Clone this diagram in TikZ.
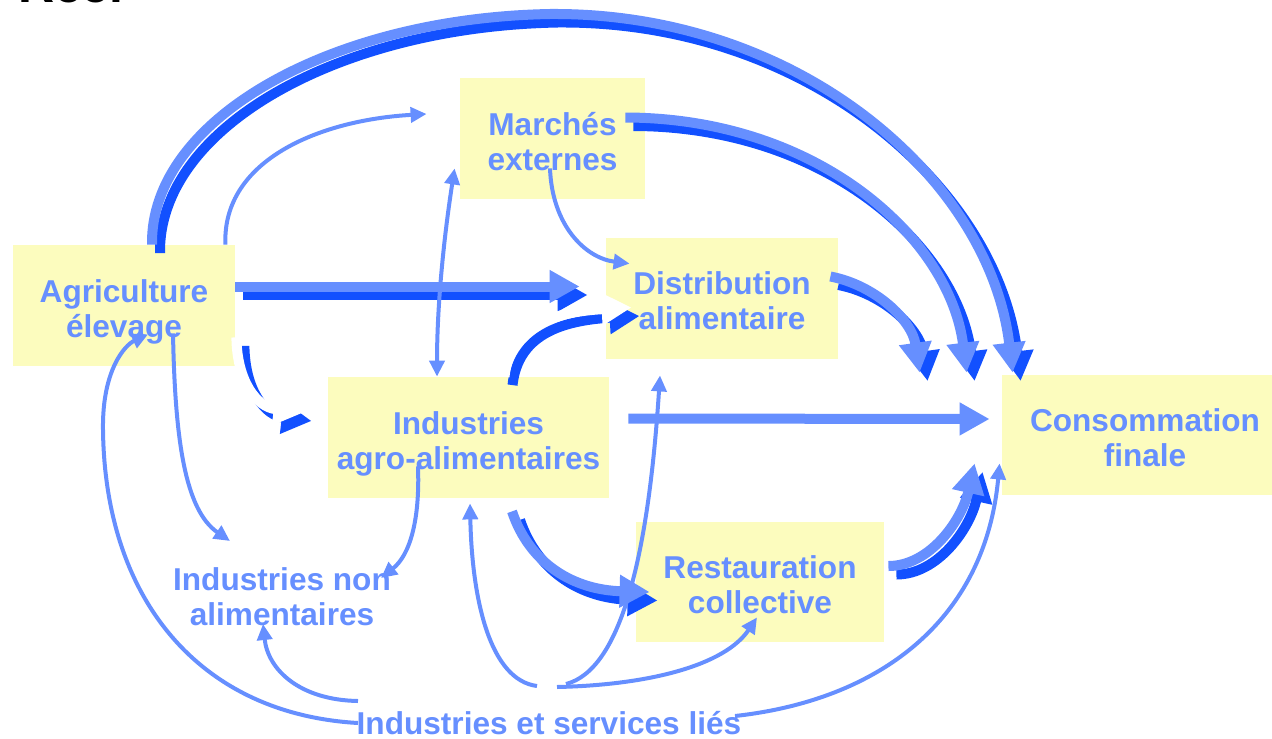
\documentclass[tikz,border=0pt]{standalone}
\usepackage{fontspec}
\setmainfont{Liberation Sans}
\usetikzlibrary{arrows.meta,calc}
\definecolor{bleu}{RGB}{102,143,255}
\definecolor{bleufonce}{RGB}{18,80,255}
\definecolor{jaune}{RGB}{252,252,190}
% thick flow: dark copy shifted underneath, then the light one on top
\newcommand{\flux}[2][bleu]{%
  \draw[epais,bleufonce,transform canvas={shift={(4pt,-4.25pt)}}] #2;
  \draw[epais,#1] #2;}
% two centred lines, baseline on the first one
\newcommand{\deux}[2]{\begin{tabular}[t]{@{}c@{}}#1\\#2\end{tabular}}

\begin{document}
\begin{tikzpicture}[x=0.5pt,y=-0.5pt,
  boite/.style={rectangle,fill=jaune,inner sep=0pt},
  txt/.style={text=bleu,inner sep=0pt,anchor=base,
    font=\bfseries\fontsize{15.8}{17.5}\selectfont},
  epais/.style={line width=5pt,-{Triangle[length=15pt,width=15.5pt]}},
  fin/.style={bleu,line width=2pt,-{Triangle[length=8pt,width=7.5pt]}}]
\useasboundingbox (0,0) rectangle (1272,738);

\node[anchor=base west,font=\bfseries\fontsize{25}{30}\selectfont] (titre) at (11,3) {Réel};

% sectors
\node[boite,minimum width=111pt,minimum height=60.5pt] (agri)    at (124,305.5) {};
\node[boite,minimum width=92.5pt,minimum height=60.5pt] (marche) at (552.5,138.5) {};
\node[boite,minimum width=116pt,minimum height=60.5pt] (distrib) at (722,298.5) {};
\node[boite,minimum width=140.5pt,minimum height=60.5pt] (iaa)   at (468.5,437.5) {};
\node[boite,minimum width=144pt,minimum height=60pt] (conso)     at (1146,435) {};
\node[boite,minimum width=124pt,minimum height=60pt] (resto)     at (760,582) {};

\node[txt] (agritxt)    at (124,302)   {\deux{Agriculture}{élevage}};
\node[txt] (marchetxt)  at (552.5,135) {\deux{Marchés}{externes}};
\node[txt] (distribtxt) at (722,294)   {\deux{Distribution}{alimentaire}};
\node[txt] (iaatxt)     at (468.5,434) {\deux{Industries}{agro-alimentaires}};
\node[txt] (consotxt)   at (1145,431)  {\deux{Consommation}{finale}};
\node[txt] (restotxt)   at (760,578)   {\deux{Restauration}{collective}};
\node[txt] (nonalim)    at (282,590)   {\deux{Industries non}{alimentaires}};
\node[txt] (lies)       at (549,734)   {Industries et services liés};

% main flows
\flux{($(agri.north)+(28,0)$) .. controls (150,120) and (330,18) .. (550,14)
      .. controls (800,12) and (990,180) .. ($(conso.north west)+(11,-2)$)}
\flux{($(marche.east)+(-20,-21)$) .. controls (820,118) and (950,240) .. ($(conso.north west)+(-35,-2)$)}
\flux{($(distrib.east)+(-8,-22)$) .. controls (875,285) and (912,320) .. ($(conso.north west)+(-82,-2)$)}
\flux{($(agri.east)+(0,-19)$) -- ($(distrib.west)+(-26,-12)$)}
\flux[white]{($(iaa.north)+(36,0)$) .. controls (510,327) and (552,312) .. ($(distrib.west)+(26,9)$)}
\flux[white]{($(agri.south east)+(1,-29)$) .. controls (237,382) and (257,407) .. ($(iaa.west)+(-24,-25)$)}
\draw[epais,bleu] ($(iaa.east)+(19,-19)$) -- ($(conso.west)+(-12,-16)$);
\flux{($(iaa.south)+(43.5,13)$) .. controls (530,565) and (575,590) .. ($(resto.west)+(14,10)$)}
\flux{($(resto.east)+(4,-16)$) .. controls (930,566) and (962,520) .. ($(conso.south west)+(-27,-32)$)}

% secondary flows
\draw[fin] ($(agri.north east)+(-10,0)$) .. controls (222,160) and (320,120) .. ($(marche.west)+(-33,-24.5)$);
\draw[fin,{Triangle[length=8pt,width=7.5pt]}-{Triangle[length=8pt,width=7.5pt]}]
  ($(marche.south west)+(-5,-31)$) .. controls (445,230) and (437,300) .. ($(iaa.north)+(-31.5,0)$);
\draw[fin] ($(marche.south)+(-2.5,-31)$) .. controls (552,225) and (585,258) .. ($(distrib.north west)+(24,26)$);
\draw[fin] ($(agri.south)+(49,-33)$) .. controls (175,440) and (185,510) .. ($(nonalim.base)+(-52,-49)$);
\draw[fin] ($(iaa.south)+(-50.5,-32)$) .. controls (420,520) and (410,555) .. ($(nonalim.base)+(99,-12)$);
\draw[fin] ($(lies.base)+(-191,-11)$) .. controls (200,714) and (105,600) .. (103,430)
  .. controls (102,370) and (125,345) .. ($(agri.south)+(24,-32)$);
\draw[fin] ($(lies.base)+(-191,-33)$) .. controls (300,700) and (268,670) .. ($(nonalim.base)+(-19,34)$);
\draw[fin] ($(lies.base)+(-12,-48)$) .. controls (490,680) and (472,600) .. ($(iaa.south)+(1.5,5)$);
\draw[fin] ($(lies.base)+(17,-50)$) .. controls (620,670) and (648,560) .. ($(distrib.south)+(-62,16)$);
\draw[fin] ($(lies.base)+(8,-47)$) .. controls (650,685) and (725,665) .. ($(resto.south)+(-3,-25)$);
\draw[fin] ($(lies.base)+(186,-18)$) .. controls (880,700) and (985,620) .. ($(conso.south west)+(-2,-32)$);
\end{tikzpicture}
\end{document}
